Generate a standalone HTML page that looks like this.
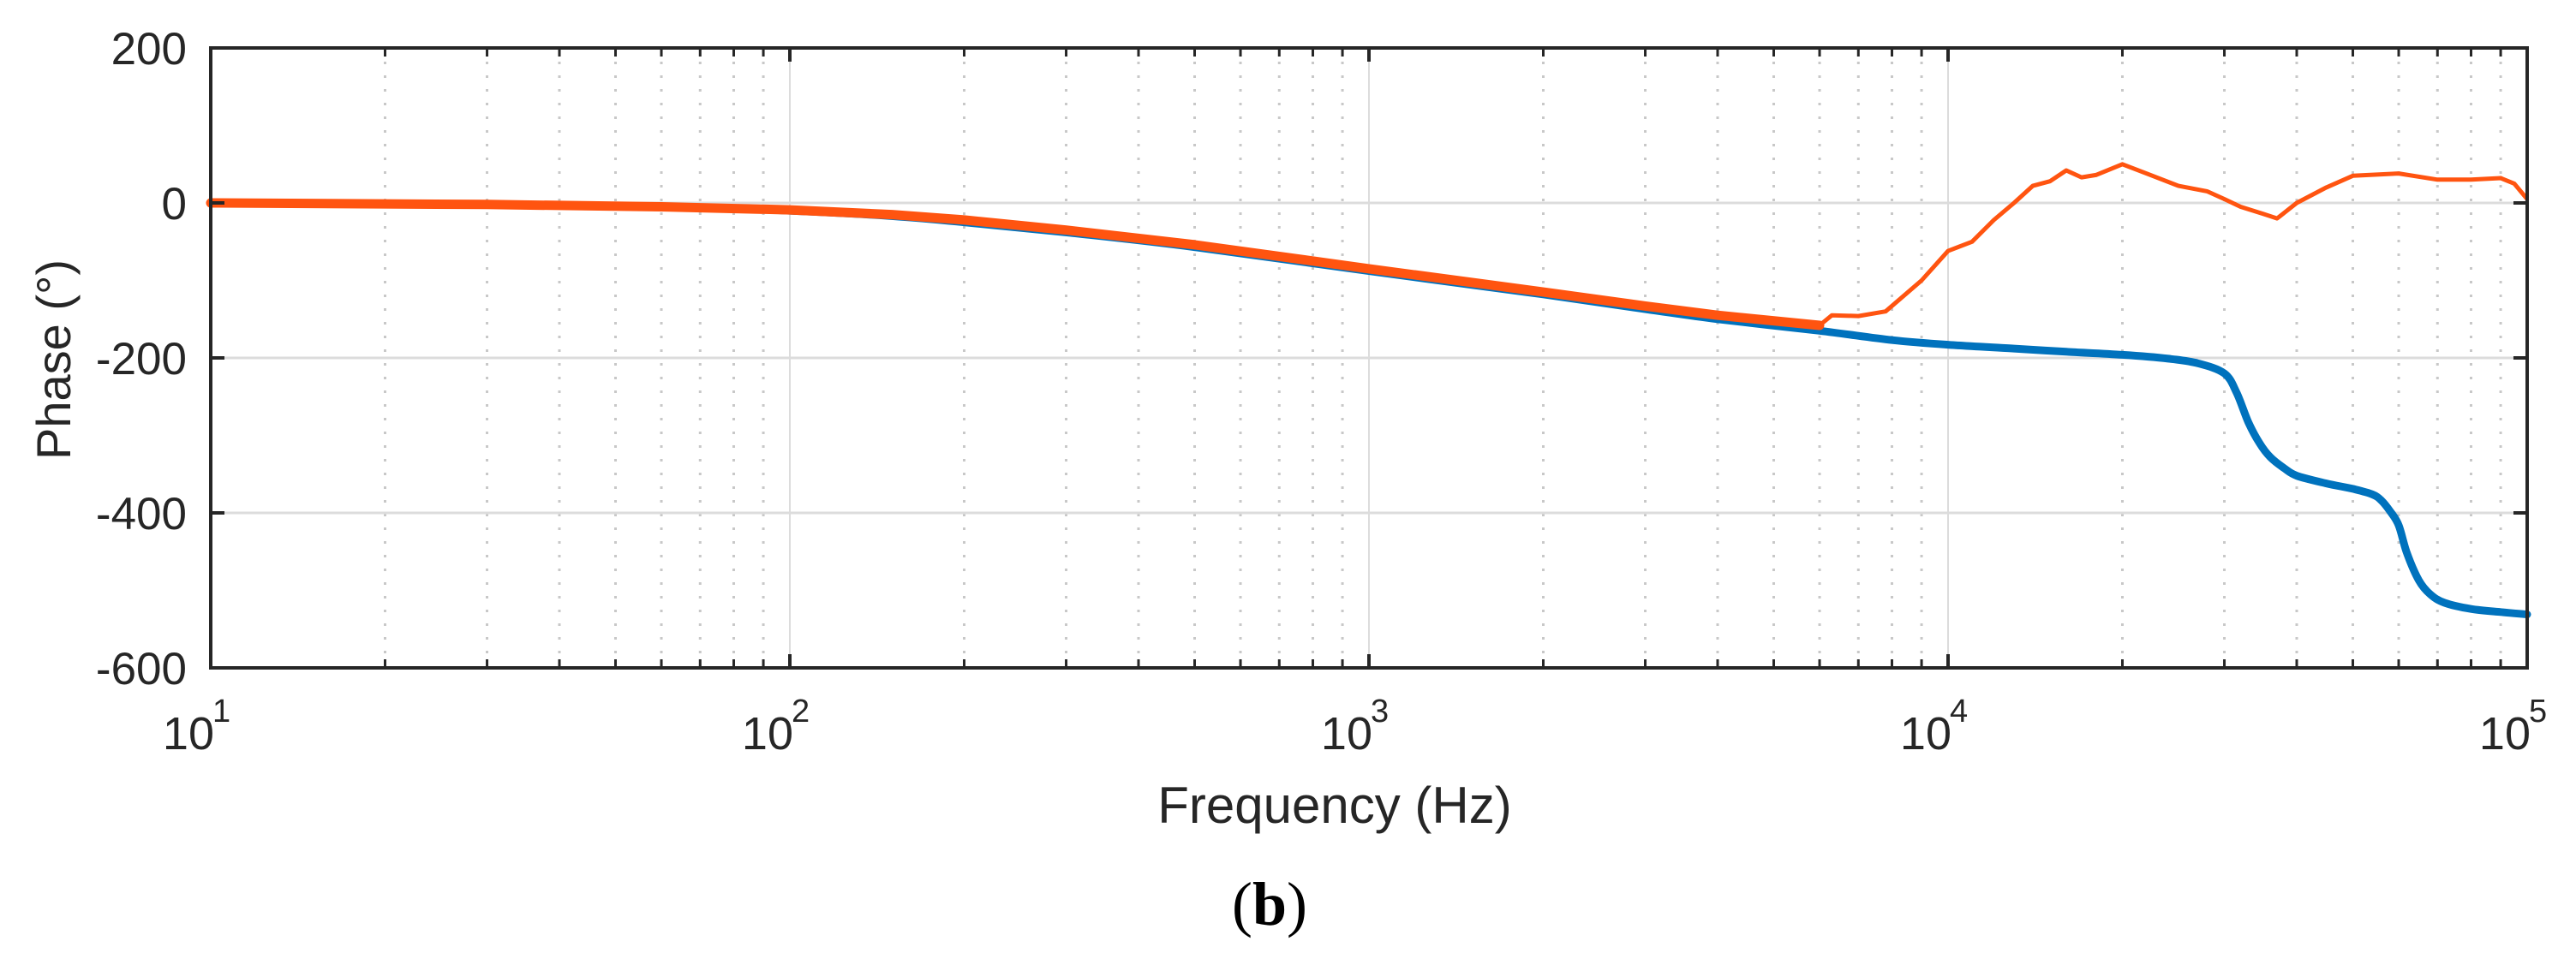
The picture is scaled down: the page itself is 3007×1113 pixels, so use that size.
<!DOCTYPE html>
<html><head><meta charset="utf-8"><style>
html,body{margin:0;padding:0;background:#fff;width:3007px;height:1113px;overflow:hidden}
svg{display:block}
text{font-family:"Liberation Sans",sans-serif;fill:#262626}
</style></head><body>
<svg id="chart" width="3007" height="1113" viewBox="0 0 3007 1113" xmlns="http://www.w3.org/2000/svg">
<g id="grid"></g>
<g id="series"></g>
<g id="axes"></g>
<text x="1558" y="961" font-size="60" text-anchor="middle">Frequency (Hz)</text>
<text transform="translate(82,420) rotate(-90)" font-size="56" text-anchor="middle">Phase (°)</text>
<text x="1482" y="1080" font-size="72" text-anchor="middle" style="font-family:'Liberation Serif',serif;fill:#000">(<tspan font-weight="bold">b</tspan>)</text>
</svg>
<script>
const yTicks=[200,0,-200,-400,-600];
const xDecades=[1,2,3,4,5];
const blueFreq=[10,30,60,100,150,200,300,500,1000,2000,3000,4000,6000,8000,10000,13000,16000,20000,24000,27000,30000,31500,33000,34500,36000,38000,40000,45000,50000,54000,56000,58000,60000,62000,65000,68000,72000,80000,90000,100000];
const bluePhase=[0,-2,-5,-10,-17,-25,-38,-57,-88,-118,-137,-150,-165,-177,-183,-188,-192,-196,-201,-207,-220,-245,-283,-310,-328,-342,-352,-362,-369,-376,-384,-398,-416,-452,-487,-505,-516,-524,-528,-531];
const orangeFreq=[10,30,60,100,150,200,300,500,1000,2000,3000,4000,6000,6300,7000,7800,9000,10000,11000,12000,13000,14000,15000,16000,17000,18000,20000,22000,25000,28000,30000,32000,35000,37000,40000,45000,50000,60000,70000,80000,90000,95000,100000];
const orangePhase=[0,-2,-5,-9,-15,-22,-35,-54,-85,-115,-133,-145,-158,-145,-146,-140,-100,-62,-50,-22,0,22,28,42,33,36,50,38,22,15,5,-5,-14,-20,0,20,35,38,30,30,32,25,5];
const L=246,R=2950,T=56,B=780;
const xs=f=>L+(Math.log10(f)-1)/4*(R-L);
const ys=p=>T+(200-p)/800*(B-T);
const NS="http://www.w3.org/2000/svg";
function mk(parent,tag,attrs){const e=document.createElementNS(NS,tag);for(const k in attrs)e.setAttribute(k,attrs[k]);parent.appendChild(e);return e;}
const grid=document.getElementById('grid'),axes=document.getElementById('axes'),series=document.getElementById('series');
for(let d=1;d<5;d++){for(let m=2;m<=9;m++){const x=xs(m*Math.pow(10,d));
const l=mk(grid,'line',{x1:x,x2:x,y1:T,y2:B,stroke:'#c8c8c8','stroke-width':3,'stroke-dasharray':'3 13'});


const t1=mk(axes,'line',{x1:x,x2:x,y1:T,y2:T+10,stroke:'#262626','stroke-width':3});


const t2=mk(axes,'line',{x1:x,x2:x,y1:B,y2:B-10,stroke:'#262626','stroke-width':3});

}}
xDecades.forEach(d=>{const x=xs(Math.pow(10,d));
const l=mk(grid,'line',{x1:x,x2:x,y1:T,y2:B,stroke:'#dcdcdc','stroke-width':2});


const t=mk(axes,'text',{x:x+4,y:875,'font-size':54,'text-anchor':'end'});


t.textContent='10';
const s=mk(axes,'text',{x:x+2,y:843,'font-size':38});
s.textContent=String(d);
[T,B].forEach(y0=>{const tk=mk(axes,'line',{x1:x,x2:x,y1:y0,y2:y0+(y0===T?16:-16),stroke:'#262626','stroke-width':4});

});});
yTicks.forEach(v=>{const y=ys(v);
const l=mk(grid,'line',{x1:L,x2:R,y1:y,y2:y,stroke:'#dcdcdc','stroke-width':3});


const t=mk(axes,'text',{x:218,y:y+19,'font-size':53,'text-anchor':'end'});


t.textContent=String(v);
[L,R].forEach(x0=>{const tk=mk(axes,'line',{x1:x0,x2:x0+(x0===L?16:-16),y1:y,y2:y,stroke:'#262626','stroke-width':4});

});});
const box=mk(axes,'rect',{x:L,y:T,width:R-L,height:B-T,fill:'none',stroke:'#262626','stroke-width':4});


function path(fr,ph){return fr.map((f,i)=>(i?'L':'M')+xs(f).toFixed(1)+','+ys(ph[i]).toFixed(1)).join('');}
function smooth(fr,ph){const p=fr.map((f,i)=>[xs(f),ys(ph[i])]);let d='M'+p[0][0].toFixed(1)+','+p[0][1].toFixed(1);
for(let i=0;i<p.length-1;i++){const a=p[Math.max(0,i-1)],b=p[i],c=p[i+1],e=p[Math.min(p.length-1,i+2)];
d+='C'+(b[0]+(c[0]-a[0])/6).toFixed(1)+','+(b[1]+(c[1]-a[1])/6).toFixed(1)+' '+(c[0]-(e[0]-b[0])/6).toFixed(1)+','+(c[1]-(e[1]-b[1])/6).toFixed(1)+' '+c[0].toFixed(1)+','+c[1].toFixed(1);}
return d;}
const bl=mk(series,'path',{d:smooth(blueFreq,bluePhase),fill:'none',stroke:'#0072BD','stroke-width':9,'stroke-linejoin':'round','stroke-linecap':'round'});


const k=orangeFreq.indexOf(6000);
const o1=mk(series,'path',{d:path(orangeFreq.slice(0,k+1),orangePhase.slice(0,k+1)),fill:'none',stroke:'#FF5410','stroke-width':11,'stroke-linejoin':'round','stroke-linecap':'round'});


const o2=mk(series,'path',{d:path(orangeFreq.slice(k),orangePhase.slice(k)),fill:'none',stroke:'#FF5410','stroke-width':5,'stroke-linejoin':'round'});


</script>
</body></html>
